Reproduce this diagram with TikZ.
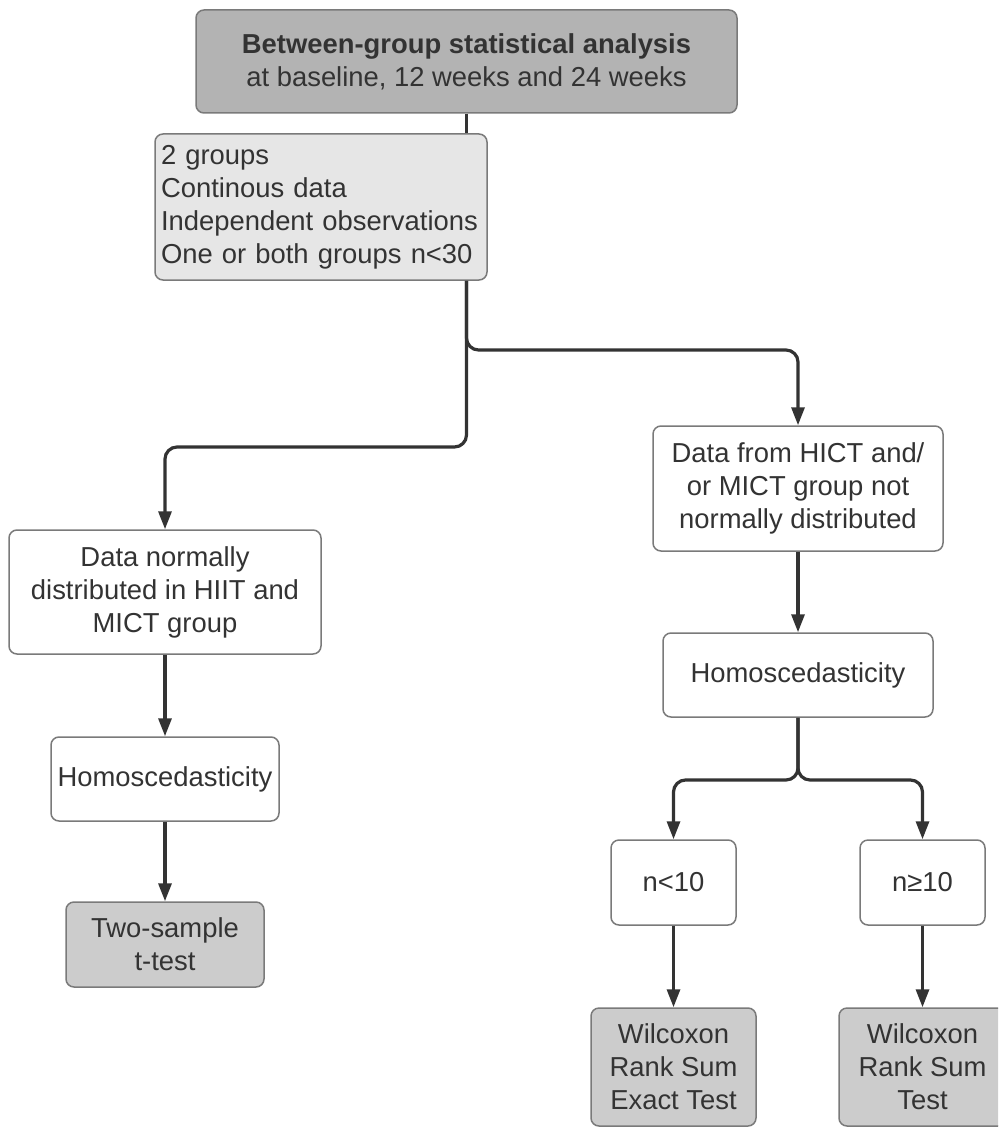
\documentclass[tikz,border=0pt]{standalone}
\usepackage{fontspec}
\setmainfont{Liberation Sans}
\usetikzlibrary{arrows.meta,calc}
\definecolor{txt}{HTML}{333333}
\definecolor{bord}{HTML}{7A7A7A}
\definecolor{darkfill}{HTML}{B3B3B3}
\definecolor{lightfill}{HTML}{E6E6E6}
\definecolor{resfill}{HTML}{CCCCCC}
\definecolor{linec}{HTML}{333333}
\tikzset{
  box/.style={draw=bord, line width=0.75pt, rounded corners=4pt, fill=white,
    text=txt, font=\fontsize{13.7}{16.5}\selectfont, align=center, inner sep=2pt},
  topbox/.style={box, fill=darkfill},
  critbox/.style={box, fill=lightfill, align=left, inner xsep=3pt},
  resbox/.style={box, fill=resfill},
  plainline/.style={draw=linec, line width=1.6pt},
  conn/.style={plainline, rounded corners=6pt, -{Triangle[length=9pt,width=6.5pt]}}
}
\begin{document}
\begin{tikzpicture}[x=0.5pt,y=-0.5pt]
\useasboundingbox (0,0) rectangle (998,1129);
\clip (0,0) rectangle (998,1129);

\node[topbox, minimum width=270.5pt, minimum height=51.5pt] (top) at (466.5,61.5)
  {{\bfseries Between-group statistical analysis}\\at baseline, 12 weeks and 24 weeks};
\node[critbox, text width=160pt, minimum height=73pt] (crit) at (321,207)
  {2 groups\\Continous data\\Independent observations\\One or both groups n<30};
\node[box, minimum width=156pt, minimum height=62pt] (normal) at (165,592)
  {Data normally\\distributed in HIIT and\\MICT group};
\node[box, minimum width=145pt, minimum height=62.5pt] (notnormal) at (798,488.5)
  {Data from HICT and/\\or MICT group not\\normally distributed};
\node[box, minimum width=114pt, minimum height=42pt] (homL) at (165,779) {Homoscedasticity};
\node[box, minimum width=135pt, minimum height=42pt] (homR) at (798,675) {Homoscedasticity};
\node[resbox, minimum width=99pt, minimum height=42.5pt] (tL) at (165,944.5) {Two-sample\\t-test};
\node[box, minimum width=62.5pt, minimum height=42.5pt] (n1) at (673.5,882.5) {n<10};
\node[box, minimum width=62.5pt, minimum height=42.5pt] (n2) at (922.5,882.5) {n≥10};
\node[resbox, minimum width=82.5pt, minimum height=59pt] (wL) at (673.5,1067) {Wilcoxon\\Rank Sum\\Exact Test};
\node[resbox, minimum width=83.5pt, minimum height=59pt] (wR) at (922.5,1067) {Wilcoxon\\Rank Sum\\Test};

\coordinate (jR) at (798,350);
\coordinate (jL) at (466.5,447);
\coordinate (jS) at (798,780);

\draw[plainline] (top.south) -- (top.south |- crit.north);
\draw[conn] (top.south |- crit.south) |- (jR) -- (notnormal.north);
\draw[conn] (top.south |- crit.south) -- (jL) -| (normal.north);
\draw[conn] (normal.south) -- (homL.north);
\draw[conn] (homL.south) -- (tL.north);
\draw[conn] (notnormal.south) -- (homR.north);
\draw[conn] (homR.south) -- (jS) -| (n1.north);
\draw[conn] (homR.south) -- (jS) -| (n2.north);
\draw[conn] (n1.south) -- (wL.north);
\draw[conn] (n2.south) -- (wR.north);
\end{tikzpicture}
\end{document}
